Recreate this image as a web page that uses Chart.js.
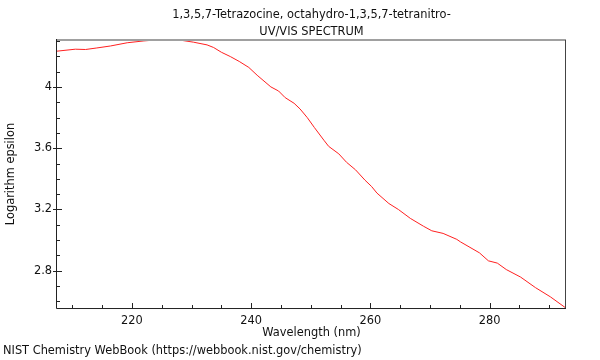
<!DOCTYPE html>
<html><head><meta charset="utf-8">
<script src="https://cdn.jsdelivr.net/npm/chart.js@4"></script>
<style>html,body{margin:0;padding:0;background:#fff}#wrap{width:600px;height:360px;position:relative}</style>
</head><body><div id="wrap"><canvas id="c" width="600" height="360"></canvas></div>
<script>
// ---- data ----
const wavelengths = [207.4,210.5,212.2,214.1,216.4,219.2,222.0,223.6,226.0,228.1,230.3,232.6,233.7,235.0,236.5,238.0,239.6,241.0,243.3,244.6,245.7,247.2,248.2,249.4,250.6,252.2,253.0,254.7,256.0,257.5,259.1,260.2,261.1,263.1,264.7,266.7,268.9,270.3,272.2,274.5,275.1,278.3,279.8,281.3,282.8,285.2,287.7,290.2,292.8];
const logEpsilon = [4.233,4.246,4.244,4.254,4.267,4.288,4.300,4.305,4.306,4.305,4.292,4.274,4.257,4.226,4.198,4.166,4.127,4.076,4.000,3.973,3.930,3.893,3.856,3.800,3.735,3.652,3.612,3.563,3.508,3.459,3.391,3.350,3.307,3.239,3.200,3.142,3.091,3.061,3.044,3.005,2.989,2.917,2.865,2.850,2.808,2.759,2.690,2.630,2.557];
const xTickValues = [220,240,260,280];
const yTickValues = [2.8,3.2,3.6,4.0];
const xMinorStep = 5;
const yMinorStep = 0.1;
const xRange = [207.42, 292.82];
const yRange = [2.557, 4.306];
const titleLines = ["1,3,5,7-Tetrazocine, octahydro-1,3,5,7-tetranitro-", "UV/VIS SPECTRUM"];
const xAxisLabel = "Wavelength (nm)";
const yAxisLabel = "Logarithm epsilon";
const creditText = "NIST Chemistry WebBook (https://webbook.nist.gov/chemistry)";

const FONT = "'DejaVu Sans', sans-serif";
const FS = 11.4;
const TEXT = '#111';

const points = wavelengths.map((w, i) => ({x: w, y: logEpsilon[i]}));

const framePlugin = {
  id: 'frame',
  afterDraw(chart) {
    const {ctx, chartArea: a, scales: {x, y}} = chart;
    ctx.save();
    ctx.strokeStyle = '#a0a0a0'; ctx.lineWidth = 2;
    ctx.beginPath(); ctx.moveTo(a.left - 1, a.top); ctx.lineTo(a.right, a.top); ctx.stroke();
    ctx.strokeStyle = '#444'; ctx.lineWidth = 1;
    ctx.beginPath(); ctx.moveTo(a.right - 0.5, a.top); ctx.lineTo(a.right - 0.5, a.bottom + 0.5); ctx.stroke();
    ctx.strokeStyle = '#222';
    ctx.beginPath(); ctx.moveTo(a.left - 0.5, a.top - 1); ctx.lineTo(a.left - 0.5, a.bottom + 0.5); ctx.lineTo(a.right, a.bottom + 0.5); ctx.stroke();
    ctx.beginPath();
    for (let v = Math.ceil(xRange[0] / xMinorStep) * xMinorStep; v <= xRange[1]; v += xMinorStep) {
      const px = Math.round(x.getPixelForValue(v)) + 0.5;
      const major = xTickValues.includes(v);
      ctx.moveTo(px, a.bottom + (major ? 1 : 0)); ctx.lineTo(px, a.bottom - (major ? 5 : 3));
    }
    for (let k = Math.ceil(yRange[0] / yMinorStep); k * yMinorStep <= yRange[1]; k++) {
      const v = Math.round(k * yMinorStep * 10) / 10;
      const py = Math.round(y.getPixelForValue(v)) + 0.5;
      const major = yTickValues.some(t => Math.abs(t - v) < 1e-6);
      ctx.moveTo(a.left - (major ? 4 : 0), py); ctx.lineTo(a.left + (major ? 5 : 3), py);
    }
    ctx.stroke();
    ctx.restore();
  }
};

new Chart(document.getElementById('c'), {
  type: 'line',
  data: { datasets: [{ data: points, borderColor: '#ff2020', borderWidth: 1, pointRadius: 0, tension: 0, fill: false }] },
  options: {
    responsive: false, animation: false, devicePixelRatio: 1,
    layout: { padding: { left: 3, right: 34, top: 0, bottom: 0 } },
    plugins: {
      legend: { display: false }, tooltip: { enabled: false },
      title: { display: true, fullSize: false, text: titleLines, color: TEXT, font: { family: FONT, size: FS, weight: 'normal', lineHeight: '16.5px' }, padding: { top: 7, bottom: 0 } },
      subtitle: { display: true, text: creditText, position: 'bottom', align: 'start', color: TEXT, font: { family: FONT, size: FS, weight: 'normal', lineHeight: 1.2 }, padding: { top: 4, bottom: 1.7 } }
    },
    scales: {
      x: {
        type: 'linear', min: xRange[0], max: xRange[1],
        grid: { display: false, drawTicks: false }, border: { display: false },
        afterBuildTicks: s => { s.ticks = xTickValues.map(v => ({ value: v })); },
        afterFit: s => { s.height = 32.6; },
        ticks: { color: TEXT, font: { family: FONT, size: FS }, padding: 6, maxRotation: 0, callback: v => String(v) },
        title: { display: true, text: xAxisLabel, color: TEXT, font: { family: FONT, size: FS }, padding: { top: 0, bottom: 0.6 } }
      },
      y: {
        type: 'linear', min: yRange[0], max: yRange[1],
        grid: { display: false, drawTicks: false }, border: { display: false },
        afterBuildTicks: s => { s.ticks = yTickValues.map(v => ({ value: v })); },
        afterFit: s => { s.width = 54; },
        ticks: { color: TEXT, font: { family: FONT, size: FS }, padding: 5, callback: v => String(Math.round(v * 10) / 10) },
        title: { display: true, text: yAxisLabel, color: TEXT, font: { family: FONT, size: FS }, padding: { top: 1, bottom: 0 } }
      }
    }
  },
  plugins: [framePlugin]
});
</script>
</body></html>
